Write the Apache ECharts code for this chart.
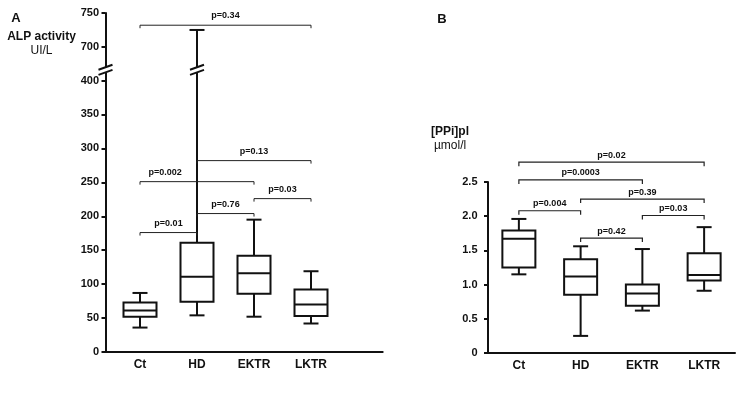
<!DOCTYPE html>
<html>
<head>
<meta charset="utf-8">
<script src="https://cdn.jsdelivr.net/npm/echarts@6/dist/echarts.min.js"></script>
<style>
  html, body { margin: 0; padding: 0; background: #fff; }
  #chart { width: 736px; height: 398px; }
</style>
</head>
<body>
<div id="chart"></div>
<script>
const categories = ['Ct', 'HD', 'EKTR', 'LKTR'];

// panel A - ALP activity (UI/L): min, Q1, median, Q3, max
const alpBoxes = [
  [36, 52, 61, 73, 87],
  [54, 74, 111, 161, 725],
  [52, 86, 116, 142, 195],
  [42, 53, 70, 92, 119]
];
const alpTicks = [0, 50, 100, 150, 200, 250, 300, 350, 400, 700, 750];
const alpBreak = [412, 670];
// comparisons: [from category, to category, bracket height]
const alpPairs = [[0, 3, 732], [1, 3, 282], [0, 2, 251], [2, 3, 226], [1, 2, 204], [0, 1, 176]];
const alpPLabels = ['p=0.34', 'p=0.13', 'p=0.002', 'p=0.03', 'p=0.76', 'p=0.01'];

// panel B - [PPi]pl (umol/l): min, Q1, median, Q3, max
const ppiBoxes = [
  [1.15, 1.25, 1.67, 1.79, 1.96],
  [0.25, 0.85, 1.12, 1.37, 1.56],
  [0.62, 0.69, 0.87, 1.0, 1.52],
  [0.91, 1.06, 1.14, 1.46, 1.84]
];
const ppiTicks = [0, 0.5, 1, 1.5, 2, 2.5];
const ppiPairs = [[0, 3, 2.79], [0, 2, 2.53], [1, 3, 2.25], [0, 1, 2.08], [2, 3, 2.01], [1, 2, 1.68]];
const ppiPLabels = ['p=0.02', 'p=0.0003', 'p=0.39', 'p=0.004', 'p=0.03', 'p=0.42'];

const FONT = '"Liberation Sans", Arial, sans-serif';
const INK = '#111';
const BOX_W = 33;
const CAP_W = 15;
const AXIS_OFFSET = 6;

function seg(x1, y1, x2, y2, w) {
  return { type: 'line', shape: { x1, y1, x2, y2 }, style: { stroke: INK, lineWidth: w || 2 } };
}

function slash(x, y) {
  return seg(x - 7, y + 2.5, x + 7, y - 2.5);
}

function renderBox(brk) {
  return function (params, api) {
    const i = api.value(0);
    const v = [1, 2, 3, 4, 5].map(d => api.value(d));
    const pt = val => api.coord([i, val]);
    const x = pt(v[0])[0];
    const yMin = pt(v[0])[1], yQ1 = pt(v[1])[1], yMed = pt(v[2])[1];
    const yQ3 = pt(v[3])[1], yMax = pt(v[4])[1];
    const hw = BOX_W / 2, cw = CAP_W / 2;
    const children = [
      seg(x, yQ1, x, yMin),
      seg(x - cw, yMin, x + cw, yMin),
      seg(x - cw, yMax, x + cw, yMax)
    ];
    if (brk && v[4] > brk[1]) {
      const yS = pt(brk[0])[1], yE = pt(brk[1])[1];
      children.push(seg(x, yQ3, x, yS), seg(x, yE, x, yMax), slash(x, yS), slash(x, yE));
    } else {
      children.push(seg(x, yQ3, x, yMax));
    }
    children.push(
      { type: 'rect', shape: { x: x - hw, y: yQ3, width: BOX_W, height: yQ1 - yQ3 },
        style: { fill: '#fff', stroke: INK, lineWidth: 2 } },
      seg(x - hw, yMed, x + hw, yMed)
    );
    // break marks on the value axis
    if (brk && params.dataIndex === 0) {
      const band = api.size([1, 0])[0];
      const ax = x - band / 2 - AXIS_OFFSET;
      const yS = pt(brk[0])[1], yE = pt(brk[1])[1];
      children.push(
        { type: 'rect', shape: { x: ax - 3, y: yE, width: 6, height: yS - yE }, style: { fill: '#fff' } },
        slash(ax, yS), slash(ax, yE)
      );
    }
    return { type: 'group', children };
  };
}

function renderPairs(labels, anchors, tick, lift, lineW) {
  return function (params, api) {
    const h = api.value(2);
    const p1 = api.coord([api.value(0), h]);
    const p2 = api.coord([api.value(1), h]);
    const a = anchors[params.dataIndex];
    const tx = p1[0] + (p2[0] - p1[0]) * a;
    return {
      type: 'group',
      children: [
        { type: 'polyline',
          shape: { points: [[p1[0], p1[1] + tick], [p1[0], p1[1]], [p2[0], p2[1]], [p2[0], p2[1] + tick]] },
          style: { stroke: '#222', lineWidth: lineW, fill: 'none' } },
        { type: 'text',
          style: { x: tx, y: p1[1] - lift, text: labels[params.dataIndex], font: 'bold 9px ' + FONT,
                   fill: INK, align: 'center', verticalAlign: 'middle' } }
      ]
    };
  };
}

function valueAxis(grid, min, max, ticks, margin, extra) {
  return Object.assign({
    type: 'value', gridIndex: grid, min, max,
    axisLine: { show: true, lineStyle: { color: INK, width: 2 } },
    axisTick: { show: true, length: 4, customValues: ticks, lineStyle: { color: INK, width: 2 } },
    axisLabel: { customValues: ticks, margin, color: INK, fontSize: 11, fontWeight: 'bold', fontFamily: FONT },
    splitLine: { show: false }
  }, extra || {});
}

function catAxis(grid, showLine) {
  return {
    type: 'category', gridIndex: grid, data: categories,
    axisLine: { show: showLine, lineStyle: { color: INK, width: 2 } },
    axisTick: { show: false },
    axisLabel: { margin: 7, color: INK, fontSize: 12, fontWeight: 'bold', fontFamily: FONT }
  };
}

function txt(x, y, text, size, bold) {
  return { type: 'text', x, y, style: { text, font: (bold ? 'bold ' : '') + size + 'px ' + FONT,
    fill: INK, align: 'center', verticalAlign: 'middle' } };
}

const chart = echarts.init(document.getElementById('chart'));
chart.setOption({
  backgroundColor: '#fff',
  animation: false,
  grid: [
    { left: 111.5, width: 228, top: 13, bottom: 46 },
    { left: 488, right: 1, top: 182, bottom: 45 },
    { left: 105.3, width: 277.4, top: 13, bottom: 46 }
  ],
  xAxis: [
    catAxis(0, false),
    catAxis(1, true),
    { type: 'value', gridIndex: 2, min: 0, max: 1,
      axisLine: { show: true, lineStyle: { color: INK, width: 2 } },
      axisTick: { show: false }, axisLabel: { show: false }, splitLine: { show: false } }
  ],
  yAxis: [
    valueAxis(0, 0, 750, alpTicks, 6.5, {
      offset: AXIS_OFFSET,
      breaks: [{ start: alpBreak[0], end: alpBreak[1], gap: '1.5%' }],
      breakArea: { show: false }
    }),
    valueAxis(1, 0, 2.5, ppiTicks, 10.5, {
      axisLabel: { customValues: ppiTicks, margin: 10.5, color: INK, fontSize: 11, fontWeight: 'bold',
        fontFamily: FONT, formatter: v => (v === 0 ? '0' : v.toFixed(1)) }
    }),
    { type: 'value', gridIndex: 2, show: false, min: 0, max: 1 }
  ],
  graphic: [
    txt(16, 18, 'A', 13, true),
    txt(41.5, 37, 'ALP activity', 12, true),
    txt(41.5, 51, 'UI/L', 12, false),
    txt(442, 19, 'B', 13, true),
    txt(450, 131.5, '[PPi]pl', 12, true),
    txt(450, 145.5, 'µmol/l', 12, false)
  ],
  series: [
    { type: 'custom', xAxisIndex: 0, yAxisIndex: 0, renderItem: renderBox(alpBreak),
      encode: { x: 0, y: [1, 2, 3, 4, 5] }, data: alpBoxes.map((b, i) => [i].concat(b)) },
    { type: 'custom', xAxisIndex: 1, yAxisIndex: 1, renderItem: renderBox(null),
      encode: { x: 0, y: [1, 2, 3, 4, 5] }, data: ppiBoxes.map((b, i) => [i].concat(b)) },
    { type: 'custom', xAxisIndex: 0, yAxisIndex: 0,
      renderItem: renderPairs(alpPLabels, [0.5, 0.5, 0.22, 0.5, 0.5, 0.5], 3, 9.5, 1),
      encode: { x: [0, 1], y: 2 }, data: alpPairs },
    { type: 'custom', xAxisIndex: 1, yAxisIndex: 1,
      renderItem: renderPairs(ppiPLabels, [0.5, 0.5, 0.5, 0.5, 0.5, 0.5], 4, 7, 1.2),
      encode: { x: [0, 1], y: 2 }, data: ppiPairs }
  ]
});
</script>
</body>
</html>
